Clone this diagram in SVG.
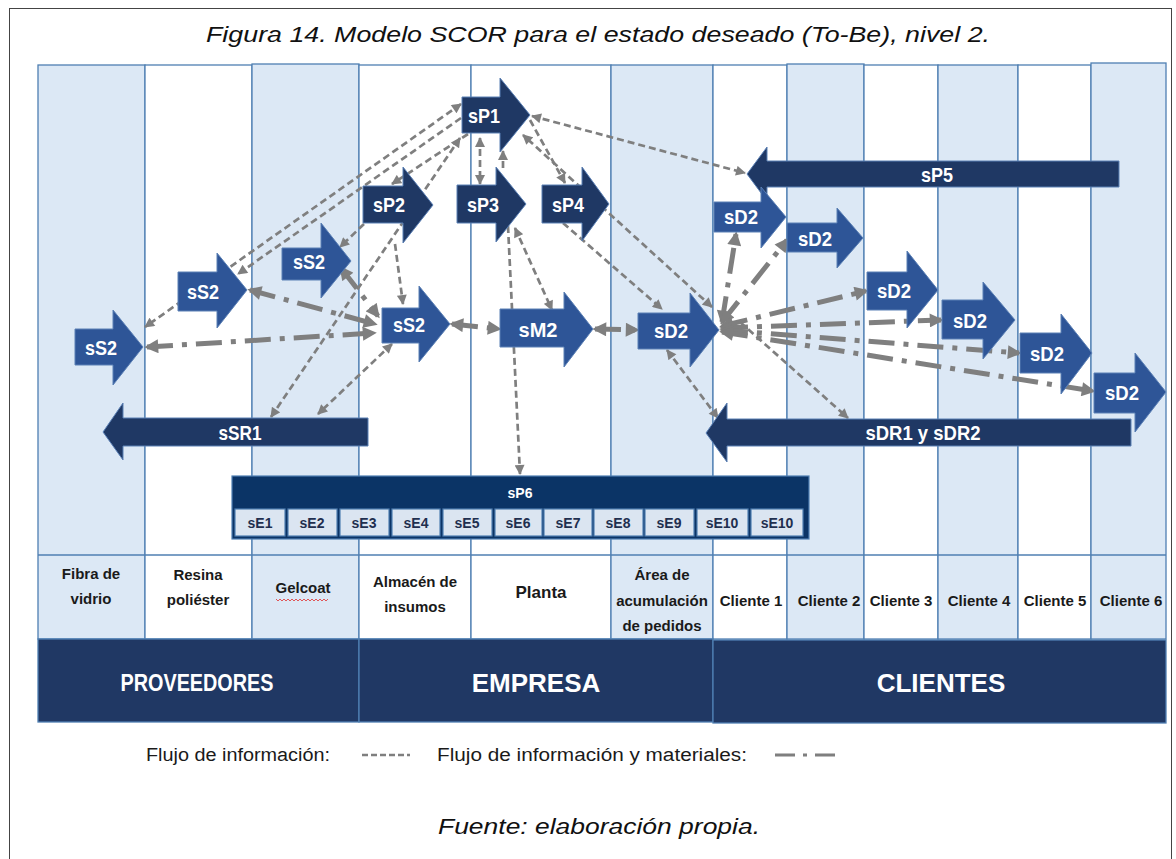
<svg xmlns="http://www.w3.org/2000/svg" width="1176" height="859" viewBox="0 0 1176 859">
<style>
.bg{fill:#ffffff}
.colL{fill:#dce8f5;stroke:#4f7fb2;stroke-width:1.3}
.colW{fill:#ffffff;stroke:#4f7fb2;stroke-width:1.3}
.band{fill:#203864;stroke:#4f7fb2;stroke-width:1.3}
.nav{fill:#1f3864;stroke:#5b80b5;stroke-width:1}
.med{fill:#2e5597;stroke:#5b80b5;stroke-width:1}
.nt{font-family:"Liberation Sans",Arial,sans-serif;font-weight:bold;font-size:21px;fill:#ffffff;text-anchor:middle}
.lb{font-family:"Liberation Sans",Arial,sans-serif;font-weight:bold;font-size:15px;fill:#1a1a1a;text-anchor:middle}
.big{font-family:"Liberation Sans",Arial,sans-serif;font-weight:bold;fill:#ffffff;text-anchor:middle}
.cap{font-family:"Liberation Sans",Arial,sans-serif;font-style:italic;font-size:22px;fill:#111}
.leg{font-family:"Liberation Sans",Arial,sans-serif;font-size:18px;fill:#1a1a1a}
.d{fill:none;stroke:#7f7f7f;stroke-width:2.7;stroke-dasharray:7 4;marker-end:url(#a)}
.d2{marker-start:url(#a)}
.t{fill:none;stroke:#7f7f7f;stroke-width:5;stroke-dasharray:26 9 5 9;marker-end:url(#b);marker-start:url(#b)}
.cell{fill:#dbe5f1;stroke:#4f7fb2;stroke-width:1.2}
.ct{font-family:"Liberation Sans",Arial,sans-serif;font-weight:bold;font-size:14px;fill:#1f2f4f;text-anchor:middle}
</style>
<defs>
<marker id="a" viewBox="0 0 10 10" refX="9" refY="5" markerWidth="11" markerHeight="10" markerUnits="userSpaceOnUse" orient="auto-start-reverse"><path d="M0,0 L10,5 L0,10 z" fill="#7f7f7f"/></marker>
<marker id="b" viewBox="0 0 10 10" refX="8" refY="5" markerWidth="15" markerHeight="14" markerUnits="userSpaceOnUse" orient="auto-start-reverse"><path d="M0,0 L10,5 L0,10 z" fill="#7f7f7f"/></marker>
</defs>
<rect class="bg" x="0" y="0" width="1176" height="859"/>
<rect x="9.5" y="8.5" width="1162" height="880" fill="none" stroke="#444" stroke-width="1"/>
<text class="cap" x="206" y="42" textLength="784" lengthAdjust="spacingAndGlyphs">Figura 14. Modelo SCOR para el estado deseado (To-Be), nivel 2.</text>

<g id="columns">
<rect class="colL" x="38" y="65" width="107" height="574"/>
<rect class="colW" x="145" y="65" width="107" height="574"/>
<rect class="colL" x="252" y="64" width="107" height="575"/>
<rect class="colW" x="359" y="65" width="112" height="574"/>
<rect class="colW" x="471" y="65" width="140" height="574"/>
<rect class="colL" x="611" y="65" width="102" height="574"/>
<rect class="colW" x="713" y="65" width="74" height="574"/>
<rect class="colL" x="787" y="64" width="77" height="575"/>
<rect class="colW" x="864" y="65" width="74" height="574"/>
<rect class="colL" x="938" y="65" width="80" height="574"/>
<rect class="colW" x="1018" y="65" width="73" height="574"/>
<rect class="colL" x="1091" y="63" width="75" height="576"/>
<line x1="38" y1="555" x2="1166" y2="555" stroke="#4f7fb2" stroke-width="1.3"/>
</g>

<g id="labels">
<text class="lb" x="91" y="579">Fibra de</text><text class="lb" x="91" y="604">vidrio</text>
<text class="lb" x="198" y="580">Resina</text><text class="lb" x="198" y="605">poliéster</text>
<text class="lb" x="303" y="593">Gelcoat</text>
<path d="M276 599 l2 2 l2 -2 l2 2 l2 -2 l2 2 l2 -2 l2 2 l2 -2 l2 2 l2 -2 l2 2 l2 -2 l2 2 l2 -2 l2 2 l2 -2 l2 2 l2 -2 l2 2 l2 -2 l2 2 l2 -2 l2 2 l2 -2 l2 2 l2 -2" fill="none" stroke="#e03030" stroke-width="0.8"/>
<text class="lb" x="415" y="587">Almacén de</text><text class="lb" x="415" y="612">insumos</text>
<text class="lb" x="541" y="598" style="font-size:17px">Planta</text>
<text class="lb" x="662" y="580">Área de</text><text class="lb" x="662" y="606">acumulación</text><text class="lb" x="662" y="631">de pedidos</text>
<text class="lb" x="751" y="606">Cliente 1</text>
<text class="lb" x="829" y="606">Cliente 2</text>
<text class="lb" x="901" y="606">Cliente 3</text>
<text class="lb" x="979" y="606">Cliente 4</text>
<text class="lb" x="1055" y="606">Cliente 5</text>
<text class="lb" x="1131" y="606">Cliente 6</text>
</g>

<g id="bands">
<rect class="band" x="38" y="639" width="321" height="83"/>
<rect class="band" x="359" y="639" width="354" height="83"/>
<rect class="band" x="713" y="640" width="453" height="83"/>
<text class="big" x="197" y="691" style="font-size:23px" textLength="153" lengthAdjust="spacingAndGlyphs">PROVEEDORES</text>
<text class="big" x="536" y="692" style="font-size:26px">EMPRESA</text>
<text class="big" x="941" y="692" style="font-size:26px">CLIENTES</text>
</g>

<g id="connectors">
<line class="d d2" x1="461" y1="104" x2="145" y2="327"/>
<line class="d" x1="461" y1="118" x2="238" y2="274"/>
<line class="d d2" x1="460" y1="138" x2="271" y2="417"/>
<line class="d" x1="468" y1="134" x2="392" y2="184"/>
<line class="d" x1="364" y1="224" x2="340" y2="247"/>
<line class="d" x1="395" y1="244" x2="403" y2="304"/>
<line class="d d2" x1="480" y1="138" x2="480" y2="184"/>
<line class="d" x1="503" y1="168" x2="503" y2="151"/>
<line class="d" x1="530" y1="120" x2="565" y2="183"/>
<line class="d d2" x1="712" y1="307" x2="523" y2="135"/>
<line class="d" x1="563" y1="223" x2="662" y2="309"/>
<line class="d d2" x1="532" y1="116" x2="745" y2="173"/>
<line class="d" x1="508" y1="226" x2="520" y2="474"/>
<line class="d d2" x1="515" y1="228" x2="552" y2="310"/>
<line class="d d2" x1="392" y1="344" x2="318" y2="414"/>
<line class="d d2" x1="667" y1="350" x2="718" y2="418"/>
<line class="d" x1="740" y1="322" x2="848" y2="418"/>
<line class="t" x1="147" y1="347" x2="374" y2="333"/>
<line class="t" x1="250" y1="290" x2="375" y2="324"/>
<line class="t" x1="341" y1="268" x2="378" y2="316"/>
<line class="t" x1="452" y1="324" x2="499" y2="329"/>
<line class="t" x1="595" y1="329" x2="637" y2="330"/>
<line class="t" x1="722" y1="322" x2="736" y2="234"/>
<line class="t" x1="722" y1="322" x2="787" y2="240"/>
<line class="t" x1="722" y1="326" x2="866" y2="291"/>
<line class="t" x1="722" y1="328" x2="941" y2="320"/>
<line class="t" x1="722" y1="330" x2="1019" y2="353"/>
<line class="t" x1="722" y1="332" x2="1093" y2="391"/>
</g>

<g id="sP5"><path class="nav" d="M1119 161 H767 V147 L747 174 L767 201 V187 H1119 Z"/><text class="nt" x="937" y="182" textLength="32" lengthAdjust="spacingAndGlyphs">sP5</text></g>
<g id="sP1"><path class="nav" d="M462 97 H500 V78 L530 115 L500 152 V133 H462 Z"/><text class="nt" x="484" y="123" textLength="32" lengthAdjust="spacingAndGlyphs">sP1</text></g>
<g id="sP2"><path class="nav" d="M363 186 H403 V167 L433 205 L403 243 V223 H363 Z"/><text class="nt" x="389" y="212" textLength="32" lengthAdjust="spacingAndGlyphs">sP2</text></g>
<g id="sP3"><path class="nav" d="M457 185 H496 V167 L526 204 L496 242 V223 H457 Z"/><text class="nt" x="483" y="212" textLength="32" lengthAdjust="spacingAndGlyphs">sP3</text></g>
<g id="sP4"><path class="nav" d="M542 185 H582 V167 L609 204 L582 241 V223 H542 Z"/><text class="nt" x="568" y="212" textLength="32" lengthAdjust="spacingAndGlyphs">sP4</text></g>
<g id="sS2-gelcoat"><path class="med" d="M282 248 H321 V223 L351 261 L321 298 V280 H282 Z"/><text class="nt" x="309" y="269" textLength="32" lengthAdjust="spacingAndGlyphs">sS2</text></g>
<g id="sS2-almacen"><path class="med" d="M382 308 H419 V286 L450 324 L419 362 V343 H382 Z"/><text class="nt" x="409" y="332" textLength="32" lengthAdjust="spacingAndGlyphs">sS2</text></g>
<g id="sS2-resina"><path class="med" d="M178 272 H217 V253 L247 290 L217 328 V311 H178 Z"/><text class="nt" x="203" y="299" textLength="32" lengthAdjust="spacingAndGlyphs">sS2</text></g>
<g id="sS2-fibra"><path class="med" d="M75 329 H113 V310 L143 347 L113 385 V365 H75 Z"/><text class="nt" x="101" y="355" textLength="32" lengthAdjust="spacingAndGlyphs">sS2</text></g>
<g id="sM2"><path class="med" d="M500 309 H564 V292 L593 329 L564 367 V347 H500 Z"/><text class="nt" x="538" y="337" textLength="39" lengthAdjust="spacingAndGlyphs">sM2</text></g>
<g id="sD2-area"><path class="med" d="M638 313 H690 V293 L719 330 L690 367 V349 H638 Z"/><text class="nt" x="671" y="338" textLength="34" lengthAdjust="spacingAndGlyphs">sD2</text></g>
<g id="sD2-c1"><path class="med" d="M714 202 H761 V187 L786 217 L761 248 V232 H714 Z"/><text class="nt" x="741" y="224" textLength="34" lengthAdjust="spacingAndGlyphs">sD2</text></g>
<g id="sD2-c2"><path class="med" d="M787 223 H837 V208 L863 238 L837 268 V252 H787 Z"/><text class="nt" x="815" y="246" textLength="34" lengthAdjust="spacingAndGlyphs">sD2</text></g>
<g id="sD2-c3"><path class="med" d="M867 272 H907 V251 L938 290 L907 328 V310 H867 Z"/><text class="nt" x="894" y="298" textLength="34" lengthAdjust="spacingAndGlyphs">sD2</text></g>
<g id="sD2-c4"><path class="med" d="M942 300 H983 V282 L1015 320 L983 359 V339 H942 Z"/><text class="nt" x="970" y="328" textLength="34" lengthAdjust="spacingAndGlyphs">sD2</text></g>
<g id="sD2-c5"><path class="med" d="M1020 333 H1061 V314 L1092 353 L1061 394 V373 H1020 Z"/><text class="nt" x="1047" y="361" textLength="34" lengthAdjust="spacingAndGlyphs">sD2</text></g>
<g id="sD2-c6"><path class="med" d="M1094 373 H1135 V353 L1166 392 L1135 432 V413 H1094 Z"/><text class="nt" x="1122" y="400" textLength="34" lengthAdjust="spacingAndGlyphs">sD2</text></g>
<g id="sSR1"><path class="nav" d="M368 418 H123 V403 L103 432 L123 460 V446 H368 Z"/><text class="nt" x="240" y="440" textLength="43" lengthAdjust="spacingAndGlyphs">sSR1</text></g>
<g id="sDR"><path class="nav" d="M1131 419 H727 V403 L706 433 L727 462 V446 H1131 Z"/><text class="nt" x="923" y="440" textLength="115" lengthAdjust="spacingAndGlyphs">sDR1 y sDR2</text></g>

<g id="sP6">
<rect x="232" y="476" width="577" height="63" fill="#0b3466" stroke="#4f7fb2" stroke-width="1.2"/>
<text x="520" y="498" class="big" style="font-size:14px">sP6</text>
<rect class="cell" x="235" y="509" width="50" height="27"/><text class="ct" x="260" y="528">sE1</text>
<rect class="cell" x="288" y="509" width="49" height="27"/><text class="ct" x="312" y="528">sE2</text>
<rect class="cell" x="340" y="509" width="49" height="27"/><text class="ct" x="364" y="528">sE3</text>
<rect class="cell" x="392" y="509" width="48" height="27"/><text class="ct" x="416" y="528">sE4</text>
<rect class="cell" x="443" y="509" width="49" height="27"/><text class="ct" x="467" y="528">sE5</text>
<rect class="cell" x="495" y="509" width="47" height="27"/><text class="ct" x="518" y="528">sE6</text>
<rect class="cell" x="544" y="509" width="48" height="27"/><text class="ct" x="568" y="528">sE7</text>
<rect class="cell" x="594" y="509" width="49" height="27"/><text class="ct" x="618" y="528">sE8</text>
<rect class="cell" x="645" y="509" width="49" height="27"/><text class="ct" x="669" y="528">sE9</text>
<rect class="cell" x="697" y="509" width="51" height="27"/><text class="ct" x="722" y="528">sE10</text>
<rect class="cell" x="751" y="509" width="52" height="27"/><text class="ct" x="777" y="528">sE10</text>
</g>

<g id="legend">
<text class="leg" x="146" y="761" textLength="184" lengthAdjust="spacingAndGlyphs">Flujo de información:</text>
<line x1="362" y1="755" x2="410" y2="755" stroke="#7f7f7f" stroke-width="2.5" stroke-dasharray="6 3"/>
<text class="leg" x="437" y="761" textLength="310" lengthAdjust="spacingAndGlyphs">Flujo de información y materiales:</text>
<line x1="775" y1="755" x2="835" y2="755" stroke="#7f7f7f" stroke-width="3" stroke-dasharray="20 8 4 8"/>
<text class="cap" x="438" y="834" textLength="322" lengthAdjust="spacingAndGlyphs">Fuente: elaboración propia.</text>
</g>
</svg>
